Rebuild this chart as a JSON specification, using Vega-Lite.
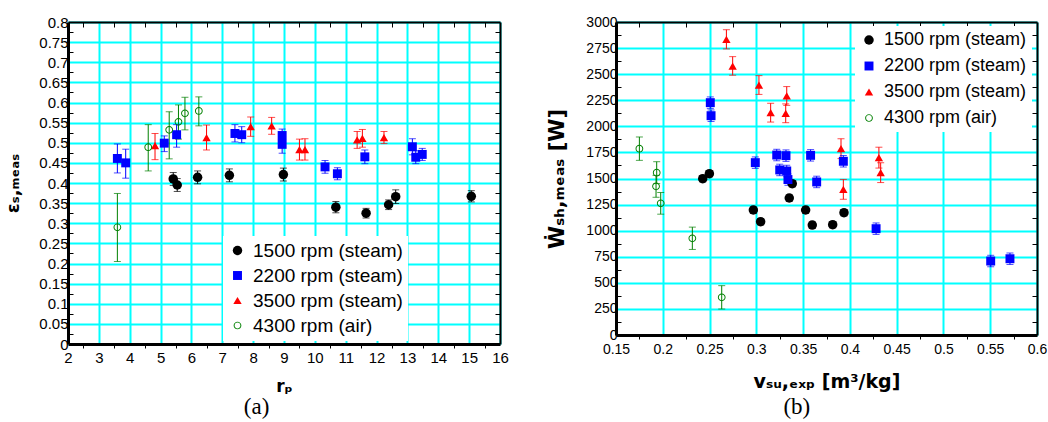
{
  "$schema": "https://vega.github.io/schema/vega-lite/v6.json",
  "padding": {"left": 4, "top": 15, "right": 0, "bottom": 0},
  "spacing": 37,
  "datasets": {
    "a": [
      {"s": "1500 rpm (steam)", "x": 5.41, "y": 0.410, "lo": 0.394, "hi": 0.426},
      {"s": "1500 rpm (steam)", "x": 5.54, "y": 0.395, "lo": 0.379, "hi": 0.411},
      {"s": "1500 rpm (steam)", "x": 6.20, "y": 0.414, "lo": 0.398, "hi": 0.430},
      {"s": "1500 rpm (steam)", "x": 7.23, "y": 0.419, "lo": 0.403, "hi": 0.435},
      {"s": "1500 rpm (steam)", "x": 8.98, "y": 0.421, "lo": 0.405, "hi": 0.437},
      {"s": "1500 rpm (steam)", "x": 10.68, "y": 0.340, "lo": 0.326, "hi": 0.354},
      {"s": "1500 rpm (steam)", "x": 11.66, "y": 0.325, "lo": 0.313, "hi": 0.337},
      {"s": "1500 rpm (steam)", "x": 12.39, "y": 0.346, "lo": 0.334, "hi": 0.358},
      {"s": "1500 rpm (steam)", "x": 12.62, "y": 0.366, "lo": 0.349, "hi": 0.383},
      {"s": "1500 rpm (steam)", "x": 15.07, "y": 0.367, "lo": 0.353, "hi": 0.381},
      {"s": "2200 rpm (steam)", "x": 3.60, "y": 0.461, "lo": 0.425, "hi": 0.497},
      {"s": "2200 rpm (steam)", "x": 3.87, "y": 0.450, "lo": 0.412, "hi": 0.484},
      {"s": "2200 rpm (steam)", "x": 5.12, "y": 0.499, "lo": 0.478, "hi": 0.517},
      {"s": "2200 rpm (steam)", "x": 5.52, "y": 0.520, "lo": 0.489, "hi": 0.545},
      {"s": "2200 rpm (steam)", "x": 7.41, "y": 0.523, "lo": 0.502, "hi": 0.545},
      {"s": "2200 rpm (steam)", "x": 7.63, "y": 0.520, "lo": 0.500, "hi": 0.540},
      {"s": "2200 rpm (steam)", "x": 8.94, "y": 0.518, "lo": 0.502, "hi": 0.534},
      {"s": "2200 rpm (steam)", "x": 8.94, "y": 0.496, "lo": 0.474, "hi": 0.516},
      {"s": "2200 rpm (steam)", "x": 10.33, "y": 0.440, "lo": 0.424, "hi": 0.456},
      {"s": "2200 rpm (steam)", "x": 10.73, "y": 0.423, "lo": 0.408, "hi": 0.438},
      {"s": "2200 rpm (steam)", "x": 11.62, "y": 0.465, "lo": 0.448, "hi": 0.482},
      {"s": "2200 rpm (steam)", "x": 13.16, "y": 0.490, "lo": 0.470, "hi": 0.510},
      {"s": "2200 rpm (steam)", "x": 13.27, "y": 0.464, "lo": 0.448, "hi": 0.480},
      {"s": "2200 rpm (steam)", "x": 13.48, "y": 0.471, "lo": 0.456, "hi": 0.486},
      {"s": "3500 rpm (steam)", "x": 4.82, "y": 0.493, "lo": 0.458, "hi": 0.523},
      {"s": "3500 rpm (steam)", "x": 6.49, "y": 0.513, "lo": 0.482, "hi": 0.544},
      {"s": "3500 rpm (steam)", "x": 7.92, "y": 0.540, "lo": 0.516, "hi": 0.564},
      {"s": "3500 rpm (steam)", "x": 8.60, "y": 0.542, "lo": 0.521, "hi": 0.563},
      {"s": "3500 rpm (steam)", "x": 9.50, "y": 0.483, "lo": 0.457, "hi": 0.509},
      {"s": "3500 rpm (steam)", "x": 9.68, "y": 0.483, "lo": 0.457, "hi": 0.510},
      {"s": "3500 rpm (steam)", "x": 11.37, "y": 0.507, "lo": 0.486, "hi": 0.528},
      {"s": "3500 rpm (steam)", "x": 11.54, "y": 0.511, "lo": 0.489, "hi": 0.533},
      {"s": "3500 rpm (steam)", "x": 12.24, "y": 0.513, "lo": 0.498, "hi": 0.528},
      {"s": "4300 rpm (air)", "x": 3.60, "y": 0.290, "lo": 0.205, "hi": 0.374},
      {"s": "4300 rpm (air)", "x": 4.60, "y": 0.489, "lo": 0.430, "hi": 0.545},
      {"s": "4300 rpm (air)", "x": 5.28, "y": 0.532, "lo": 0.460, "hi": 0.577},
      {"s": "4300 rpm (air)", "x": 5.58, "y": 0.552, "lo": 0.509, "hi": 0.594},
      {"s": "4300 rpm (air)", "x": 5.79, "y": 0.573, "lo": 0.532, "hi": 0.613},
      {"s": "4300 rpm (air)", "x": 6.24, "y": 0.579, "lo": 0.542, "hi": 0.614}
    ],
    "b": [
      {"s": "1500 rpm (steam)", "x": 0.2427, "y": 1498, "lo": 1468, "hi": 1528},
      {"s": "1500 rpm (steam)", "x": 0.2498, "y": 1546, "lo": 1516, "hi": 1576},
      {"s": "1500 rpm (steam)", "x": 0.2968, "y": 1198, "lo": 1168, "hi": 1228},
      {"s": "1500 rpm (steam)", "x": 0.3046, "y": 1086, "lo": 1056, "hi": 1116},
      {"s": "1500 rpm (steam)", "x": 0.3352, "y": 1313, "lo": 1283, "hi": 1343},
      {"s": "1500 rpm (steam)", "x": 0.3384, "y": 1450, "lo": 1420, "hi": 1480},
      {"s": "1500 rpm (steam)", "x": 0.3527, "y": 1198, "lo": 1168, "hi": 1228},
      {"s": "1500 rpm (steam)", "x": 0.3598, "y": 1054, "lo": 1024, "hi": 1084},
      {"s": "1500 rpm (steam)", "x": 0.3816, "y": 1057, "lo": 1027, "hi": 1087},
      {"s": "1500 rpm (steam)", "x": 0.3937, "y": 1172, "lo": 1142, "hi": 1202},
      {"s": "2200 rpm (steam)", "x": 0.2508, "y": 2227, "lo": 2172, "hi": 2282},
      {"s": "2200 rpm (steam)", "x": 0.2516, "y": 2102, "lo": 2047, "hi": 2157},
      {"s": "2200 rpm (steam)", "x": 0.2989, "y": 1652, "lo": 1597, "hi": 1707},
      {"s": "2200 rpm (steam)", "x": 0.3218, "y": 1725, "lo": 1670, "hi": 1780},
      {"s": "2200 rpm (steam)", "x": 0.3250, "y": 1582, "lo": 1527, "hi": 1637},
      {"s": "2200 rpm (steam)", "x": 0.3317, "y": 1719, "lo": 1664, "hi": 1774},
      {"s": "2200 rpm (steam)", "x": 0.3325, "y": 1572, "lo": 1517, "hi": 1627},
      {"s": "2200 rpm (steam)", "x": 0.3338, "y": 1490, "lo": 1435, "hi": 1545},
      {"s": "2200 rpm (steam)", "x": 0.3580, "y": 1722, "lo": 1667, "hi": 1777},
      {"s": "2200 rpm (steam)", "x": 0.3645, "y": 1467, "lo": 1412, "hi": 1522},
      {"s": "2200 rpm (steam)", "x": 0.3930, "y": 1665, "lo": 1610, "hi": 1720},
      {"s": "2200 rpm (steam)", "x": 0.4280, "y": 1019, "lo": 964, "hi": 1074},
      {"s": "2200 rpm (steam)", "x": 0.5505, "y": 709, "lo": 654, "hi": 764},
      {"s": "2200 rpm (steam)", "x": 0.5711, "y": 731, "lo": 676, "hi": 786},
      {"s": "3500 rpm (steam)", "x": 0.2680, "y": 2834, "lo": 2742, "hi": 2926},
      {"s": "3500 rpm (steam)", "x": 0.2747, "y": 2578, "lo": 2490, "hi": 2668},
      {"s": "3500 rpm (steam)", "x": 0.3028, "y": 2396, "lo": 2306, "hi": 2486},
      {"s": "3500 rpm (steam)", "x": 0.3153, "y": 2131, "lo": 2041, "hi": 2221},
      {"s": "3500 rpm (steam)", "x": 0.3314, "y": 2125, "lo": 2035, "hi": 2215},
      {"s": "3500 rpm (steam)", "x": 0.3325, "y": 2291, "lo": 2201, "hi": 2381},
      {"s": "3500 rpm (steam)", "x": 0.3905, "y": 1786, "lo": 1691, "hi": 1881},
      {"s": "3500 rpm (steam)", "x": 0.3930, "y": 1396, "lo": 1301, "hi": 1491},
      {"s": "3500 rpm (steam)", "x": 0.4310, "y": 1700, "lo": 1600, "hi": 1800},
      {"s": "3500 rpm (steam)", "x": 0.4329, "y": 1556, "lo": 1461, "hi": 1651},
      {"s": "4300 rpm (air)", "x": 0.1750, "y": 1786, "lo": 1674, "hi": 1898},
      {"s": "4300 rpm (air)", "x": 0.1935, "y": 1556, "lo": 1451, "hi": 1661},
      {"s": "4300 rpm (air)", "x": 0.1928, "y": 1425, "lo": 1320, "hi": 1530},
      {"s": "4300 rpm (air)", "x": 0.1978, "y": 1262, "lo": 1158, "hi": 1366},
      {"s": "4300 rpm (air)", "x": 0.2316, "y": 927, "lo": 820, "hi": 1034},
      {"s": "4300 rpm (air)", "x": 0.2630, "y": 361, "lo": 249, "hi": 473}
    ]
  },
  "resolve": {"scale": {"color": "independent", "shape": "independent", "size": "independent"}, "legend": {"color": "independent", "shape": "independent", "size": "independent"}},
  "hconcat": [
    {
      "width": 432,
      "height": 322,
      "data": {"name": "a"},
      "title": {"text": "(a)", "orient": "bottom", "frame": "bounds", "anchor": "middle", "font": "Liberation Serif", "fontSize": 23, "fontWeight": "normal", "color": "black", "offset": 2},
      "layer": [
        {
          "mark": {"type": "rule", "strokeWidth": 1},
          "encoding": {
            "x": {"field": "x", "type": "quantitative", "scale": {"domain": [2, 16], "nice": false, "zero": false},
              "axis": {"orient": "bottom", "title": "rₚ", "titleFontSize": 17, "titlePadding": 13,
                "values": [2,2.5,3,3.5,4,4.5,5,5.5,6,6.5,7,7.5,8,8.5,9,9.5,10,10.5,11,11.5,12,12.5,13,13.5,14,14.5,15,15.5,16],
                "format": "~g", "labelExpr": "datum.value % 1 === 0 ? datum.label : ''", "labelFontSize": 15, "labelPadding": 2,
                "tickSize": 4, "tickWidth": 1, "tickOpacity": {"condition": {"test": "datum.value % 1 === 0", "value": 0}, "value": 1},
                "grid": true, "gridOpacity": {"condition": {"test": "datum.value % 1 === 0", "value": 1}, "value": 0}, "domainWidth": 3}},
            "y": {"field": "lo", "type": "quantitative", "scale": {"domain": [0, 0.8], "nice": false, "zero": false},
              "axis": {"orient": "left", "title": "εₛ,ₘₑₐₛ", "titleFontSize": 18, "titlePadding": 16,
                "values": [0,0.025,0.05,0.075,0.1,0.125,0.15,0.175,0.2,0.225,0.25,0.275,0.3,0.325,0.35,0.375,0.4,0.425,0.45,0.475,0.5,0.525,0.55,0.575,0.6,0.625,0.65,0.675,0.7,0.725,0.75,0.775,0.8],
                "format": "~g", "labelExpr": "round(datum.value*1000) % 50 === 0 ? datum.label : ''", "labelFontSize": 15, "labelPadding": 5,
                "tickSize": -5, "tickWidth": 1, "tickOpacity": {"condition": {"test": "round(datum.value*1000) % 50 === 0", "value": 0}, "value": 1},
                "grid": true, "gridOpacity": {"condition": {"test": "round(datum.value*1000) % 50 === 0", "value": 1}, "value": 0}, "domainWidth": 3}},
            "y2": {"field": "hi"},
            "stroke": {"field": "s", "type": "nominal", "scale": {"domain": ["4300 rpm (air)", "3500 rpm (steam)", "2200 rpm (steam)", "1500 rpm (steam)"], "range": ["#008000", "#FF0000", "#0000FF", "#000000"]}, "legend": null}
          }
        },
        {
          "mark": {"type": "tick", "orient": "horizontal", "size": 7, "thickness": 1},
          "encoding": {
            "x": {"field": "x", "type": "quantitative",
              "axis": {"orient": "top", "title": null, "labels": false,
                "values": [2,2.5,3,3.5,4,4.5,5,5.5,6,6.5,7,7.5,8,8.5,9,9.5,10,10.5,11,11.5,12,12.5,13,13.5,14,14.5,15,15.5,16],
                "tickSize": -5, "tickWidth": 1, "tickOpacity": {"condition": {"test": "datum.value % 1 === 0", "value": 0}, "value": 1},
                "grid": false, "domainWidth": 2}},
            "y": {"field": "lo", "type": "quantitative",
              "axis": {"orient": "right", "title": null, "labels": false,
                "values": [0,0.025,0.05,0.075,0.1,0.125,0.15,0.175,0.2,0.225,0.25,0.275,0.3,0.325,0.35,0.375,0.4,0.425,0.45,0.475,0.5,0.525,0.55,0.575,0.6,0.625,0.65,0.675,0.7,0.725,0.75,0.775,0.8],
                "tickSize": -5, "tickWidth": 1, "tickOpacity": {"condition": {"test": "round(datum.value*1000) % 50 === 0", "value": 0}, "value": 1},
                "grid": false, "domainWidth": 2}},
            "fill": {"field": "s", "type": "nominal", "scale": {"domain": ["4300 rpm (air)", "3500 rpm (steam)", "2200 rpm (steam)", "1500 rpm (steam)"], "range": ["#008000", "#FF0000", "#0000FF", "#000000"]}, "legend": null}
          }
        },
        {
          "mark": {"type": "tick", "orient": "horizontal", "size": 7, "thickness": 1},
          "encoding": {
            "x": {"field": "x", "type": "quantitative", "axis": null},
            "y": {"field": "hi", "type": "quantitative", "axis": null},
            "fill": {"field": "s", "type": "nominal", "legend": null}
          }
        },
        {
          "mark": {"type": "point", "filled": true, "opacity": 1},
          "encoding": {
            "x": {"field": "x", "type": "quantitative", "axis": null},
            "y": {"field": "y", "type": "quantitative", "axis": null},
            "color": {"field": "s", "type": "nominal",
              "scale": {"domain": ["1500 rpm (steam)", "2200 rpm (steam)", "3500 rpm (steam)", "4300 rpm (air)"], "range": ["#000000", "#0000FF", "#FF0000", "#008000"]},
              "legend": {"orient": "none", "legendX": 155, "legendY": 214, "title": null, "fillColor": "white", "padding": 5, "labelFont": "Liberation Sans", "labelFontSize": 19, "labelColor": "black", "rowPadding": 5, "labelOffset": 6}},
            "size": {"field": "s", "type": "nominal",
              "scale": {"domain": ["1500 rpm (steam)", "2200 rpm (steam)", "3500 rpm (steam)", "4300 rpm (air)"], "range": [90, 60, 80, 80]},
              "legend": {"orient": "none", "legendX": 155, "legendY": 214, "title": null, "fillColor": "white", "padding": 5, "labelFont": "Liberation Sans", "labelFontSize": 19, "labelColor": "black", "rowPadding": 5, "labelOffset": 6}},
            "shape": {"field": "s", "type": "nominal",
              "scale": {"domain": ["1500 rpm (steam)", "2200 rpm (steam)", "3500 rpm (steam)", "4300 rpm (air)"], "range": ["circle", "square", "triangle-up", "M -1 0 A 1 1 0 1 0 1 0 A 1 1 0 1 0 -1 0 Z M -0.75 0 A 0.75 0.75 0 1 1 0.75 0 A 0.75 0.75 0 1 1 -0.75 0 Z"]},
              "legend": {"orient": "none", "legendX": 155, "legendY": 214, "title": null, "fillColor": "white", "padding": 5, "labelFont": "Liberation Sans", "labelFontSize": 19, "labelColor": "black", "rowPadding": 5, "labelOffset": 6}}
          }
        }
      ]
    },
    {
      "width": 421,
      "height": 313,
      "data": {"name": "b"},
      "title": {"text": "(b)", "orient": "bottom", "frame": "bounds", "anchor": "middle", "font": "Liberation Serif", "fontSize": 23, "fontWeight": "normal", "color": "black", "offset": 5},
      "layer": [
        {
          "mark": {"type": "rule", "strokeWidth": 1},
          "encoding": {
            "x": {"field": "x", "type": "quantitative", "scale": {"domain": [0.15, 0.6], "nice": false, "zero": false},
              "axis": {"orient": "bottom", "title": "vₛᵤ,ₑₓₚ  [m³/kg]", "titleFontSize": 19, "titlePadding": 16,
                "values": [0.15,0.175,0.2,0.225,0.25,0.275,0.3,0.325,0.35,0.375,0.4,0.425,0.45,0.475,0.5,0.525,0.55,0.575,0.6],
                "format": "~g", "labelExpr": "round(datum.value*1000) % 50 === 0 ? datum.label : ''", "labelFontSize": 14, "labelPadding": 3,
                "tickSize": 4, "tickWidth": 1, "tickOpacity": {"condition": {"test": "round(datum.value*1000) % 50 === 0", "value": 0}, "value": 1},
                "grid": true, "gridOpacity": {"condition": {"test": "round(datum.value*1000) % 50 === 0", "value": 1}, "value": 0}, "domainWidth": 3}},
            "y": {"field": "lo", "type": "quantitative", "scale": {"domain": [0, 3000], "nice": false, "zero": false},
              "axis": {"orient": "left", "title": "Ẇₛₕ,ₘₑₐₛ  [W]", "titleFontSize": 21, "titlePadding": 18,
                "values": [0,125,250,375,500,625,750,875,1000,1125,1250,1375,1500,1625,1750,1875,2000,2125,2250,2375,2500,2625,2750,2875,3000],
                "format": "d", "labelExpr": "datum.value % 250 === 0 ? datum.label : ''", "labelFontSize": 14, "labelPadding": 4,
                "tickSize": -5, "tickWidth": 1, "tickOpacity": {"condition": {"test": "datum.value % 250 === 0", "value": 0}, "value": 1},
                "grid": true, "gridOpacity": {"condition": {"test": "datum.value % 250 === 0", "value": 1}, "value": 0}, "domainWidth": 3}},
            "y2": {"field": "hi"},
            "stroke": {"field": "s", "type": "nominal", "scale": {"domain": ["4300 rpm (air)", "3500 rpm (steam)", "2200 rpm (steam)", "1500 rpm (steam)"], "range": ["#008000", "#FF0000", "#0000FF", "#000000"]}, "legend": null}
          }
        },
        {
          "mark": {"type": "tick", "orient": "horizontal", "size": 7, "thickness": 1},
          "encoding": {
            "x": {"field": "x", "type": "quantitative",
              "axis": {"orient": "top", "title": null, "labels": false,
                "values": [0.15,0.175,0.2,0.225,0.25,0.275,0.3,0.325,0.35,0.375,0.4,0.425,0.45,0.475,0.5,0.525,0.55,0.575,0.6],
                "tickSize": -5, "tickWidth": 1, "tickOpacity": {"condition": {"test": "round(datum.value*1000) % 50 === 0", "value": 0}, "value": 1},
                "grid": false, "domainWidth": 2}},
            "y": {"field": "lo", "type": "quantitative",
              "axis": {"orient": "right", "title": null, "labels": false,
                "values": [0,125,250,375,500,625,750,875,1000,1125,1250,1375,1500,1625,1750,1875,2000,2125,2250,2375,2500,2625,2750,2875,3000],
                "tickSize": -5, "tickWidth": 1, "tickOpacity": {"condition": {"test": "datum.value % 250 === 0", "value": 0}, "value": 1},
                "grid": false, "domainWidth": 2}},
            "fill": {"field": "s", "type": "nominal", "scale": {"domain": ["4300 rpm (air)", "3500 rpm (steam)", "2200 rpm (steam)", "1500 rpm (steam)"], "range": ["#008000", "#FF0000", "#0000FF", "#000000"]}, "legend": null}
          }
        },
        {
          "mark": {"type": "tick", "orient": "horizontal", "size": 7, "thickness": 1},
          "encoding": {
            "x": {"field": "x", "type": "quantitative", "axis": null},
            "y": {"field": "hi", "type": "quantitative", "axis": null},
            "fill": {"field": "s", "type": "nominal", "legend": null}
          }
        },
        {
          "mark": {"type": "point", "filled": true, "opacity": 1},
          "encoding": {
            "x": {"field": "x", "type": "quantitative", "axis": null},
            "y": {"field": "y", "type": "quantitative", "axis": null},
            "color": {"field": "s", "type": "nominal",
              "scale": {"domain": ["1500 rpm (steam)", "2200 rpm (steam)", "3500 rpm (steam)", "4300 rpm (air)"], "range": ["#000000", "#0000FF", "#FF0000", "#008000"]},
              "legend": {"orient": "none", "legendX": 239, "legendY": 4, "title": null, "fillColor": "white", "padding": 5, "labelFont": "Liberation Sans", "labelFontSize": 18, "labelColor": "black", "rowPadding": 8, "labelOffset": 6}},
            "size": {"field": "s", "type": "nominal",
              "scale": {"domain": ["1500 rpm (steam)", "2200 rpm (steam)", "3500 rpm (steam)", "4300 rpm (air)"], "range": [90, 60, 80, 80]},
              "legend": {"orient": "none", "legendX": 239, "legendY": 4, "title": null, "fillColor": "white", "padding": 5, "labelFont": "Liberation Sans", "labelFontSize": 18, "labelColor": "black", "rowPadding": 8, "labelOffset": 6}},
            "shape": {"field": "s", "type": "nominal",
              "scale": {"domain": ["1500 rpm (steam)", "2200 rpm (steam)", "3500 rpm (steam)", "4300 rpm (air)"], "range": ["circle", "square", "triangle-up", "M -1 0 A 1 1 0 1 0 1 0 A 1 1 0 1 0 -1 0 Z M -0.75 0 A 0.75 0.75 0 1 1 0.75 0 A 0.75 0.75 0 1 1 -0.75 0 Z"]},
              "legend": {"orient": "none", "legendX": 239, "legendY": 4, "title": null, "fillColor": "white", "padding": 5, "labelFont": "Liberation Sans", "labelFontSize": 18, "labelColor": "black", "rowPadding": 8, "labelOffset": 6}}
          }
        }
      ]
    }
  ],
  "config": {
    "view": {"stroke": null},
    "font": "Liberation Sans",
    "axis": {"labelFont": "Liberation Sans", "labelColor": "black", "domainColor": "black", "tickColor": "black", "gridColor": "#00FFFF", "gridWidth": 2, "titleFont": "DejaVu Sans", "titleFontWeight": "bold", "titleColor": "black", "labelFlush": false, "labelOverlap": false, "labelBound": false}
  }
}
